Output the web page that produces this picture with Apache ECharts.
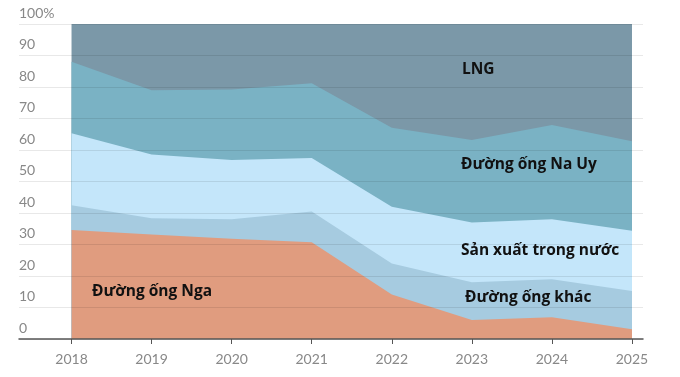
<!DOCTYPE html>
<html>
<head>
<meta charset="utf-8">
<script src="https://cdn.jsdelivr.net/npm/echarts@6/dist/echarts.min.js"></script>
<style>
html,body{margin:0;padding:0;background:#fff;}
#main{width:680px;height:377px;}
</style>
</head>
<body>
<div id="main"></div>
<script>
// nam
var years = [2018, 2019, 2020, 2021, 2022, 2023, 2024, 2025];
// ty trong (%) tung nguon
var nga    = [34.6, 33.2, 31.8, 30.7, 14.1, 6.0, 6.9, 3.1];
var khac   = [7.9, 5.1, 6.2, 9.8, 9.9, 12.0, 12.1, 12.1];
var trongnuoc = [22.8, 20.3, 18.8, 17.0, 18.0, 19.0, 19.0, 19.2];
var nauy   = [22.7, 20.4, 22.4, 23.7, 25.1, 26.2, 29.9, 28.4];
var lng    = [12.0, 21.0, 20.8, 18.8, 32.9, 36.8, 32.1, 37.2];

var names = ['Đường ống Nga', 'Đường ống khác', 'Sản xuất trong nước', 'Đường ống Na Uy', 'LNG'];
var colors = ['#e09c7f', '#a6cbe0', '#c4e6fa', '#7ab2c4', '#7b98a8'];

// cong don (stack theo truc y) - truc x la value nen tu cong
var allData = [nga, khac, trongnuoc, nauy, lng];
var cum = [];
var run = years.map(function(){ return 0; });
for (var i = 0; i < allData.length; i++) {
	run = run.map(function(v, j){ return v + allData[i][j]; });
	cum.push(run.slice());
}

var series = [];
// ve tu tren xuong de lop duoi de len lop tren
for (var i = allData.length - 1; i >= 0; i--) {
	series.push({
		name: names[i],
		type: 'line',
		symbol: 'none',
		lineStyle: {width: 0},
		areaStyle: {color: colors[i], opacity: 1},
		data: years.map(function(y, j){ return [y, cum[i][j]]; })
	});
}

var lblFont = 'bold 15.5px "Open Sans"';
function txt(x, y, s){
	return {type: 'text', x: x, y: y, z: 100,
		style: {text: s, font: lblFont, fill: '#111', verticalAlign: 'middle'}};
}

var myChart = echarts.init(document.getElementById('main'), null, {renderer: 'canvas'});
myChart.setOption({
	animation: false,
	grid: {left: 19, right: 37, top: 24, bottom: 38},
	xAxis: {
		type: 'value',
		min: 2017.344,
		max: 2025.1375,
		z: 10,
		splitLine: {show: false},
		axisLine: {show: true, lineStyle: {color: '#555', width: 1.5}},
		axisTick: {show: true, length: 5, customValues: years, lineStyle: {color: '#555', width: 1}},
		axisLabel: {customValues: years, color: '#888', fontSize: 14, fontFamily: 'Lato', margin: 13,
			formatter: function(v){ return String(v); }}
	},
	yAxis: {
		type: 'value',
		min: 0,
		max: 100,
		interval: 10,
		z: 10,
		axisLine: {show: false},
		axisTick: {show: false},
		splitLine: {lineStyle: {color: 'rgba(0,0,0,0.09)', width: 1}},
		axisLabel: {inside: true, margin: 0, verticalAlign: 'bottom', padding: [0, 0, 4, 0],
			color: '#888', fontSize: 14, fontFamily: 'Lato',
			formatter: function(v){ return v == 100 ? '100%' : String(v); }}
	},
	series: series,
	graphic: [
		txt(462, 70, 'LNG'),
		txt(461, 165, 'Đường ống Na Uy'),
		txt(461, 251, 'Sản xuất trong nước'),
		txt(465, 298, 'Đường ống khác'),
		txt(92, 292, 'Đường ống Nga')
	]
});
</script>
</body>
</html>
